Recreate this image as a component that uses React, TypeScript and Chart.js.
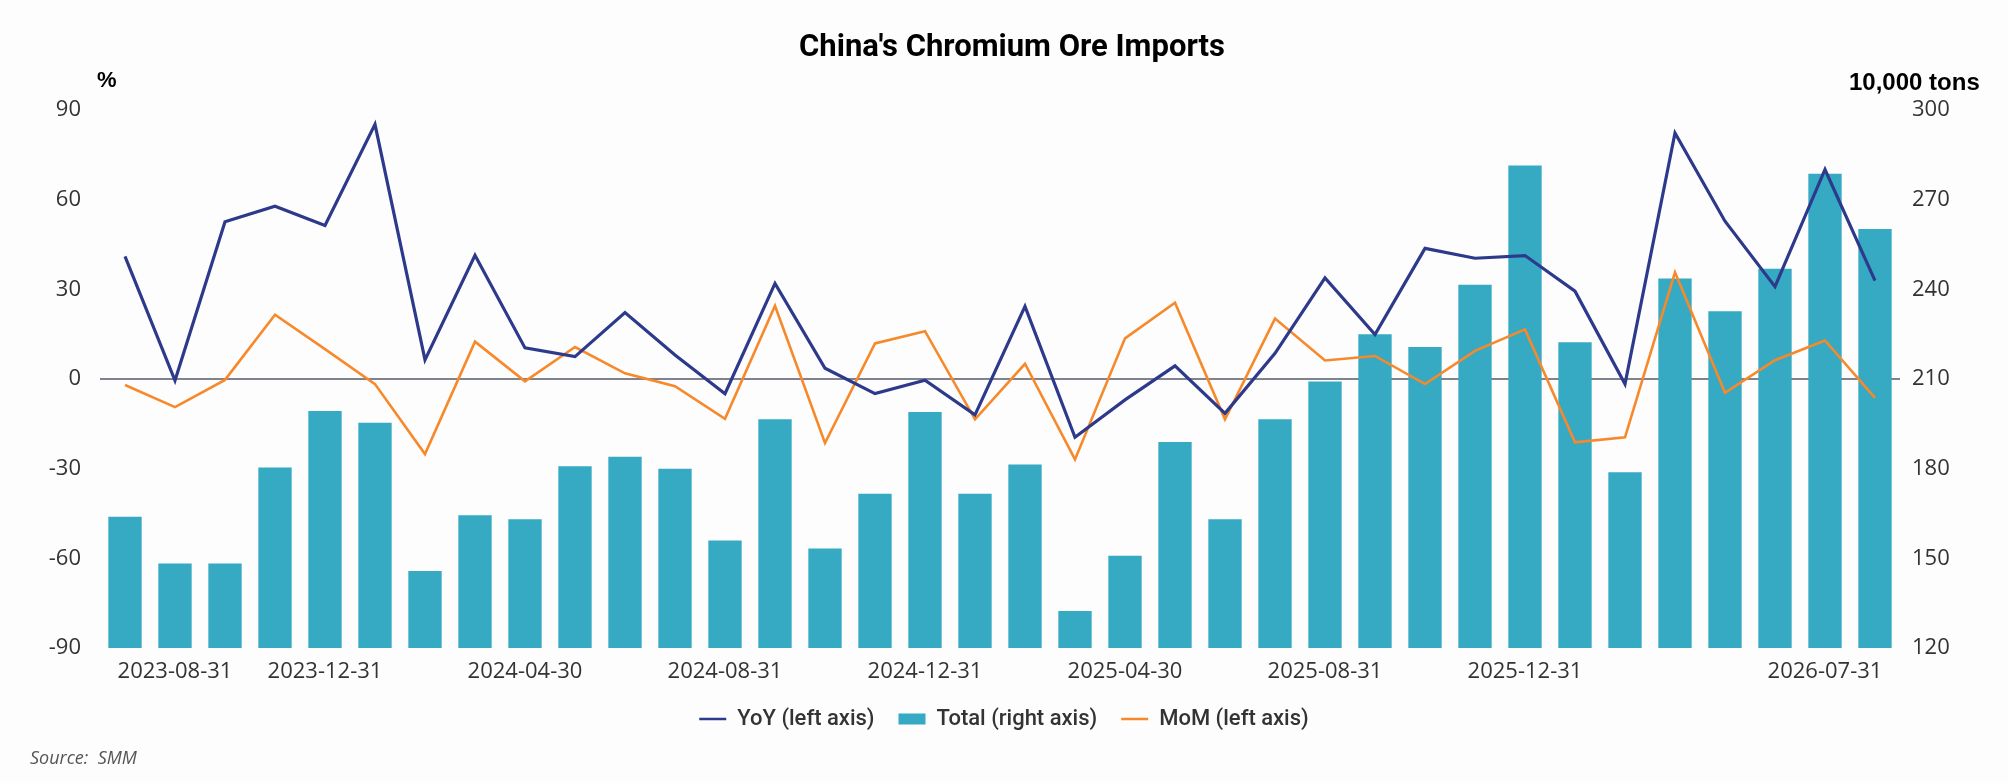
import { useEffect, useRef } from "react";
import { Chart, registerables } from "chart.js";

Chart.register(...registerables);

// month-end dates on the category axis
const months = [
  "2023-07-31", "2023-08-31", "2023-09-30", "2023-11-30", "2023-12-31", "2024-01-31",
  "2024-02-29", "2024-03-31", "2024-04-30", "2024-05-31", "2024-06-30", "2024-07-31",
  "2024-08-31", "2024-09-30", "2024-10-31", "2024-11-30", "2024-12-31", "2025-01-31",
  "2025-02-28", "2025-03-31", "2025-04-30", "2025-05-31", "2025-06-30", "2025-07-31",
  "2025-08-31", "2025-09-30", "2025-10-31", "2025-11-30", "2025-12-31", "2026-01-31",
  "2026-02-28", "2026-03-31", "2026-05-31", "2026-06-30", "2026-07-31", "2026-08-31",
];

// only these dates get a label under the axis
const tickLabels = [
  "2023-08-31", "2023-12-31", "2024-04-30", "2024-08-31", "2024-12-31",
  "2025-04-30", "2025-08-31", "2025-12-31", "2026-07-31",
];

// total imports, 10,000 tons (right axis)
const total = [
  163.9, 148.3, 148.3, 180.4, 199.3, 195.4, 145.8, 164.4, 163.1, 180.8, 184.0, 180.0,
  156.0, 196.5, 153.3, 171.6, 199.0, 171.6, 181.4, 132.4, 150.9, 188.9, 163.1, 196.5,
  209.2, 225.0, 220.7, 241.5, 281.4, 222.3, 178.8, 243.6, 232.7, 246.9, 278.7, 260.2,
];

// year on year, % (left axis)
const yoy = [
  41.0, -0.5, 52.6, 57.8, 51.4, 85.2, 6.4, 41.4, 10.4, 7.5, 22.2, 8.0,
  -4.9, 32.0, 3.6, -4.9, -0.4, -12.0, 24.3, -19.5, -7.0, 4.4, -11.5, 8.6,
  33.8, 14.9, 43.7, 40.4, 41.3, 29.4, -1.7, 82.3, 52.8, 30.9, 70.1, 32.9,
];

// month on month, % (left axis)
const mom = [
  -2.0, -9.4, -0.3, 21.5, 10.0, -1.7, -25.1, 12.5, -0.8, 10.7, 1.9, -2.4,
  -13.3, 24.5, -21.4, 11.9, 16.0, -13.5, 5.1, -26.9, 13.6, 25.5, -13.5, 20.2,
  6.2, 7.7, -1.7, 9.4, 16.6, -21.2, -19.5, 35.7, -4.6, 6.3, 12.9, -6.3,
];

const NAVY = "#2d3a8c";
const ORANGE = "#f7892b";
const TEAL = "#36a9c3";
const tickFont = { family: "'Open Sans', 'Noto Sans', sans-serif", size: 22 };

const ImportsChart = () => {
  const canvasRef = useRef<HTMLCanvasElement | null>(null);

  useEffect(() => {
    document.body.style.margin = "0";
    const canvas = canvasRef.current;
    if (!canvas) return;

    const chart = new Chart(canvas, {
      type: "bar",
      data: {
        labels: months,
        datasets: [
          {
            type: "line",
            label: "YoY (left axis)",
            data: yoy,
            yAxisID: "yL",
            borderColor: NAVY,
            backgroundColor: NAVY,
            borderWidth: 3.2,
            pointRadius: 0,
            tension: 0,
            order: 0,
          },
          {
            type: "bar",
            label: "Total (right axis)",
            data: total,
            yAxisID: "yR",
            backgroundColor: TEAL,
            barPercentage: 0.667,
            categoryPercentage: 1,
            order: 1,
          },
          {
            type: "line",
            label: "MoM (left axis)",
            data: mom,
            yAxisID: "yL",
            borderColor: ORANGE,
            backgroundColor: ORANGE,
            borderWidth: 2.6,
            pointRadius: 0,
            tension: 0,
            order: 0,
          },
        ],
      },
      options: {
        responsive: false,
        animation: false,
        layout: { padding: { top: 110, left: 0, right: 0, bottom: 43 } },
        plugins: {
          title: { display: false },
          tooltip: { enabled: false },
          legend: {
            position: "bottom",
            labels: {
              usePointStyle: true,
              pointStyleWidth: 27,
              boxHeight: 11,
              padding: 24,
              color: "#333",
              font: { family: "Roboto, 'Liberation Sans', sans-serif", size: 22, weight: 500 },
              sort: (a, b) => (a.datasetIndex ?? 0) - (b.datasetIndex ?? 0),
              generateLabels: (c) =>
                Chart.defaults.plugins.legend.labels.generateLabels(c).map((item) =>
                  item.datasetIndex === 1
                    ? { ...item, pointStyle: "rect", lineWidth: 0, fillStyle: TEAL }
                    : { ...item, pointStyle: "line", lineWidth: 2.5 }
                ),
            },
          },
        },
        scales: {
          x: {
            grid: { display: false },
            border: { display: false },
            ticks: {
              autoSkip: false,
              maxRotation: 0,
              padding: 3,
              color: "#333",
              font: tickFont,
              callback: (_v, i) => (tickLabels.includes(months[i]) ? months[i] : ""),
            },
            afterFit: (s) => {
              s.height = 36;
            },
          },
          yL: {
            position: "left",
            min: -90,
            max: 90,
            ticks: { stepSize: 30, padding: 19, color: "#333", font: tickFont },
            grid: {
              drawTicks: false,
              lineWidth: 2,
              color: (ctx) => (ctx.tick && ctx.tick.value === 0 ? "#7f838e" : "transparent"),
            },
            border: { display: false },
            afterFit: (s) => {
              s.width = 100;
            },
          },
          yR: {
            position: "right",
            min: 120,
            max: 300,
            ticks: { stepSize: 30, padding: 12, color: "#333", font: tickFont },
            grid: { display: false, drawTicks: false },
            border: { display: false },
            afterFit: (s) => {
              s.width = 108;
            },
          },
        },
      },
    });

    return () => chart.destroy();
  }, []);

  return (
    <div style={{ position: "relative", width: 2008, height: 783, background: "#fdfdfd", overflow: "hidden" }}>
      <canvas ref={canvasRef} width={2008} height={783} style={{ position: "absolute", left: 0, top: 0 }} />
      <div
        style={{
          position: "absolute",
          left: 1012,
          top: 27,
          transform: "translateX(-50%)",
          whiteSpace: "nowrap",
          fontFamily: "'Liberation Sans Narrow', 'Roboto', sans-serif",
          fontWeight: 700,
          fontSize: 31,
          color: "#000",
        }}
      >
        China's Chromium Ore Imports
      </div>
      <div
        style={{
          position: "absolute",
          left: 97,
          top: 67,
          fontFamily: "'Liberation Sans', sans-serif",
          fontWeight: 700,
          fontSize: 22,
          color: "#000",
        }}
      >
        %
      </div>
      <div
        style={{
          position: "absolute",
          left: 1849,
          top: 68,
          whiteSpace: "nowrap",
          fontFamily: "'Liberation Sans', sans-serif",
          fontWeight: 700,
          fontSize: 24,
          color: "#000",
        }}
      >
        10,000 tons
      </div>
      <div
        style={{
          position: "absolute",
          left: 30,
          top: 745,
          whiteSpace: "pre",
          fontFamily: "'Open Sans', sans-serif",
          fontStyle: "italic",
          fontSize: 18,
          color: "#555",
        }}
      >
        {"Source:  SMM"}
      </div>
    </div>
  );
};

export default function App() {
  return <ImportsChart />;
}
